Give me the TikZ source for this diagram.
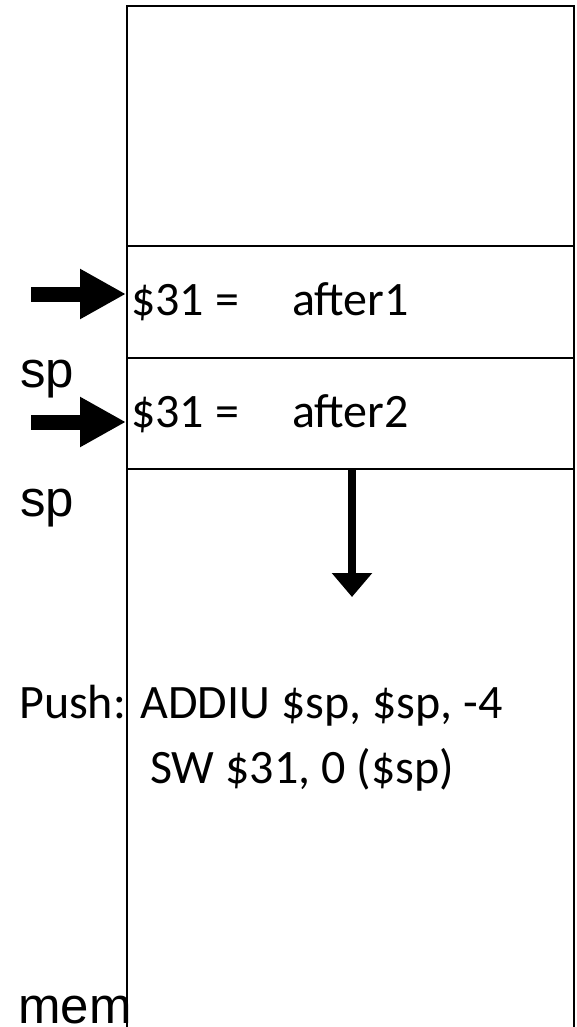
\documentclass[tikz,border=0pt]{standalone}
\usepackage{fontspec}
\setmainfont{Carlito}
\newfontfamily\arialf{Liberation Sans}
\usetikzlibrary{arrows.meta}
\begin{document}
\begin{tikzpicture}[x=1pt,y=-1pt,
  memline/.style={line width=2.2pt},
  blockarrow/.style={line width=15pt,-{Triangle[length=46pt,width=47pt]}},
  downarrow/.style={line width=8pt,-{Triangle[length=24pt,width=39pt]}},
  cal/.style={anchor=base west,inner sep=0pt,font=\fontsize{48}{57}\selectfont},
  ari/.style={anchor=base west,inner sep=0pt,font=\arialf\fontsize{51}{60}\selectfont}]
\useasboundingbox (0,0) rectangle (576,1027);
% memory column
\draw[memline] (127,1027) -- (127,6) -- (574,6) -- (574,1027);
\draw[memline] (127,246) -- (574,246);
\draw[memline] (127,358) -- (574,358);
\draw[memline] (127,469) -- (574,469);
% texts
\node[cal] (t1) at (131,315) {\$31 =};
\node[cal] (v1) at (292,315) {after1};
\node[cal] (t2) at (131,427) {\$31 =};
\node[cal] (v2) at (292,427) {after2};
\node[ari] (sp1) at (20,387) {sp};
\node[ari] (sp2) at (20,516) {sp};
\node[ari] (mem) at (18,1023) {mem};
\node[cal] (push) at (19,718) {Push: ADDIU \$sp, \$sp, -4};
\node[cal] (sw) at (150,783) {SW \$31, 0 (\$sp)};
% arrows
\coordinate (a1s) at (31,294);
\coordinate (a1e) at (126,294);
\coordinate (a2s) at (31,422);
\coordinate (a2e) at (126,422);
\coordinate (ds) at (352,469);
\coordinate (de) at (352,597);
\draw[blockarrow] (a1s) -- (a1e);
\draw[blockarrow] (a2s) -- (a2e);
\draw[downarrow] (ds) -- (de);
\end{tikzpicture}
\end{document}
